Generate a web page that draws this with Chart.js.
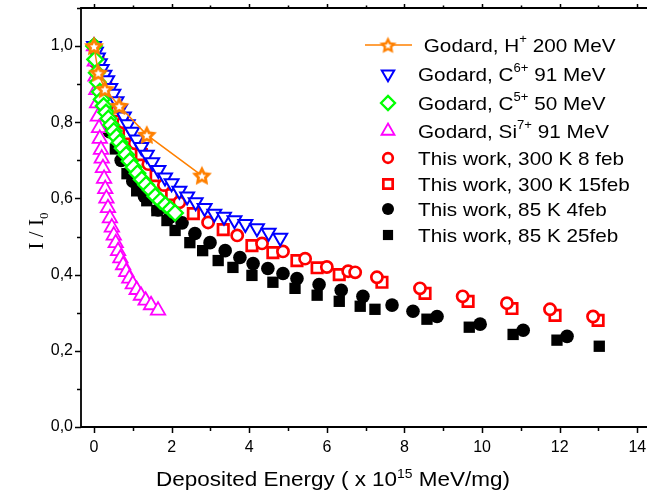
<!DOCTYPE html>
<html>
<head>
<meta charset="utf-8">
<title>I / I0 vs deposited energy</title>
<script src="https://cdn.jsdelivr.net/npm/chart.js@4.4.0/dist/chart.umd.min.js"></script>
<style>
  html, body { margin: 0; padding: 0; background: #ffffff; }
  #wrap { width: 647px; height: 497px; }
</style>
</head>
<body>
<div id="wrap"><canvas id="chart" width="647" height="497"></canvas></div>
<script>
// Axis ticks
const xTickValues = [0, 2, 4, 6, 8, 10, 12, 14];
const yTickValues = [0, 0.2, 0.4, 0.6, 0.8, 1.0];

// Series names (^{..} = superscript)
const seriesNames = [
  ' Godard, H^{+} 200 MeV',
  'Godard, C^{6+} 91 MeV',
  'Godard, C^{5+} 50 MeV',
  'Godard, Si^{7+} 91 MeV',
  'This work, 300 K 8 feb',
  'This work, 300 K 15feb',
  'This work, 85 K 4feb',
  'This work, 85 K 25feb'
];

// Godard, H+ 200 MeV
const hPlusX = [0, 0.11, 0.28, 0.65, 1.36, 2.78];
const hPlusY = [1.0, 0.93, 0.887, 0.843, 0.767, 0.66];

// Godard, C6+ 91 MeV
const c6X = [0, 0.05, 0.1, 0.15, 0.2, 0.27, 0.34, 0.42, 0.5, 0.58, 0.67, 0.77, 0.87, 0.98, 1.1, 1.22,
  1.36, 1.5, 1.66, 1.83, 2.0, 2.2, 2.4, 2.62, 2.85, 3.1, 3.35, 3.62, 3.9, 4.2, 4.5, 4.8];
const c6Y = [1.0, 0.985, 0.97, 0.955, 0.94, 0.925, 0.91, 0.89, 0.875, 0.855, 0.835, 0.815, 0.795, 0.775, 0.755, 0.735,
  0.715, 0.695, 0.675, 0.655, 0.64, 0.62, 0.605, 0.59, 0.575, 0.56, 0.552, 0.543, 0.533, 0.522, 0.51, 0.497];

// Godard, C5+ 50 MeV
const c5X = [0, 0.03, 0.07, 0.1, 0.15, 0.2, 0.25, 0.31, 0.37, 0.44, 0.51, 0.58, 0.66, 0.74, 0.83, 0.92,
  1.02, 1.12, 1.23, 1.34, 1.46, 1.58, 1.71, 1.84, 1.97, 2.09];
const c5Y = [1.0, 0.965, 0.93, 0.905, 0.88, 0.86, 0.843, 0.826, 0.81, 0.793, 0.777, 0.762, 0.747, 0.732, 0.715, 0.698,
  0.682, 0.666, 0.65, 0.636, 0.622, 0.606, 0.594, 0.583, 0.572, 0.562];

// Godard, Si7+ 91 MeV
const si7X = [0, 0.02, 0.04, 0.06, 0.08, 0.1, 0.13, 0.15, 0.18, 0.2, 0.23, 0.26, 0.29, 0.32, 0.36, 0.41,
  0.46, 0.51, 0.56, 0.62, 0.68, 0.75, 0.83, 0.91, 1.0, 1.1, 1.21, 1.33, 1.47, 1.65];
const si7Y = [1.0, 0.96, 0.92, 0.885, 0.85, 0.815, 0.785, 0.757, 0.728, 0.705, 0.68, 0.652, 0.625, 0.6, 0.575, 0.548,
  0.524, 0.503, 0.483, 0.462, 0.443, 0.425, 0.407, 0.39, 0.375, 0.36, 0.345, 0.332, 0.32, 0.306];

// This work, 300 K 8 feb
const k300aX = [0, 0.2, 0.45, 0.75, 1.05, 1.4, 1.8, 2.2, 2.94, 3.69, 4.33, 4.87, 5.44, 6.0, 6.55, 6.73,
  7.29, 8.4, 9.5, 10.64, 11.75, 12.86];
const k300aY = [1.0, 0.92, 0.86, 0.8, 0.745, 0.69, 0.635, 0.59, 0.537, 0.503, 0.482, 0.461, 0.442, 0.42, 0.409, 0.406,
  0.393, 0.364, 0.343, 0.325, 0.309, 0.29];

// This work, 300 K 15feb
const k300bX = [0.1, 0.3, 0.6, 0.9, 1.22, 1.6, 2.0, 2.56, 3.33, 4.07, 4.61, 5.23, 5.75, 6.32, 7.42, 8.53,
  9.64, 10.77, 11.88, 12.99];
const k300bY = [0.96, 0.89, 0.83, 0.77, 0.715, 0.66, 0.61, 0.56, 0.518, 0.476, 0.458, 0.437, 0.418, 0.4, 0.38, 0.351,
  0.33, 0.311, 0.293, 0.28];

// This work, 85 K 4feb
const k85aX = [0, 0.15, 0.4, 0.7, 1.0, 1.3, 1.65, 1.95, 2.27, 2.6, 2.99, 3.38, 3.76, 4.1, 4.48, 4.87,
  5.23, 5.8, 6.37, 6.93, 7.68, 8.22, 8.84, 9.95, 11.06, 12.19];
const k85aY = [1.0, 0.88, 0.775, 0.7, 0.645, 0.605, 0.57, 0.55, 0.536, 0.508, 0.484, 0.463, 0.445, 0.429, 0.416, 0.403,
  0.39, 0.374, 0.359, 0.343, 0.32, 0.304, 0.29, 0.27, 0.254, 0.238];

// This work, 85 K 25feb
const k85bX = [0.05, 0.25, 0.55, 0.85, 1.1, 1.36, 1.62, 1.88, 2.09, 2.47, 2.8, 3.2, 3.58, 4.07, 4.61, 5.18,
  5.75, 6.32, 6.86, 7.24, 8.58, 9.67, 10.8, 11.93, 13.02];
const k85bY = [0.96, 0.83, 0.73, 0.665, 0.62, 0.594, 0.568, 0.542, 0.516, 0.484, 0.463, 0.437, 0.419, 0.398, 0.38, 0.364,
  0.346, 0.33, 0.317, 0.309, 0.283, 0.262, 0.243, 0.228, 0.212];

const FONT = '"Liberation Sans", Arial, sans-serif';
const ORANGE = '#ff8000';

// Orange star with white centre, used as a point image
function starPath(g, cx, cy, rOut, rIn) {
  g.beginPath();
  for (let i = 0; i < 10; i++) {
    const r = i % 2 === 0 ? rOut : rIn;
    const a = -Math.PI / 2 + i * Math.PI / 5;
    const px = cx + r * Math.cos(a);
    const py = cy + r * Math.sin(a);
    if (i === 0) g.moveTo(px, py); else g.lineTo(px, py);
  }
  g.closePath();
}

function makeStar(size) {
  const c = document.createElement('canvas');
  c.width = size;
  c.height = size;
  const g = c.getContext('2d');
  const cx = size / 2, cy = size / 2 + 0.8;
  starPath(g, cx, cy, size / 2 - 0.5, size / 4.2);
  g.fillStyle = ORANGE;
  g.fill();
  starPath(g, cx, cy, size / 5.2, size / 11);
  g.fillStyle = '#ffffff';
  g.fill();
  return c;
}

const starImg = makeStar(22);
const starLegendImg = makeStar(19);

function points(xs, ys) {
  return xs.map((x, i) => ({ x: x, y: ys[i] }));
}

const seriesData = [
  points(hPlusX, hPlusY),
  points(c6X, c6Y),
  points(c5X, c5Y),
  points(si7X, si7Y),
  points(k300aX, k300aY),
  points(k300bX, k300bY),
  points(k85aX, k85aY),
  points(k85bX, k85bY)
];

// Marker styles for each series
const seriesStyles = [
  { color: ORANGE, style: starImg, legendStyle: starLegendImg, radius: 11, rotation: 0, fill: ORANGE, width: 0, order: 0, line: true },
  { color: '#0000ff', style: 'triangle', radius: 8, rotation: 180, fill: '#ffffff', width: 2, order: 2 },
  { color: '#00ff00', style: 'rectRot', radius: 7.8, rotation: 0, fill: '#ffffff', width: 2.3, order: 1 },
  { color: '#ff00ff', style: 'triangle', radius: 8.3, rotation: 0, fill: '#ffffff', width: 1.8, order: 3 },
  { color: '#ff0000', style: 'circle', radius: 5.6, rotation: 0, fill: '#ffffff', width: 2.7, order: 4 },
  { color: '#ff0000', style: 'rect', radius: 7.4, rotation: 0, fill: '#ffffff', width: 2.7, order: 5 },
  { color: '#000000', style: 'circle', radius: 6.8, rotation: 0, fill: '#000000', width: 0, order: 6 },
  { color: '#000000', style: 'rect', radius: 8, rotation: 0, fill: '#000000', width: 0, order: 7 }
];

// Split "abc^{+} def" into [text, isSuper] parts
function splitSup(str) {
  const parts = [];
  const re = /\^\{([^}]*)\}/g;
  let last = 0, m;
  while ((m = re.exec(str)) !== null) {
    if (m.index > last) parts.push([str.slice(last, m.index), false]);
    parts.push([m[1], true]);
    last = re.lastIndex;
  }
  if (last < str.length) parts.push([str.slice(last), false]);
  return parts;
}

function drawRich(ctx, str, x, y, size, supSize, rise) {
  let cx = x;
  splitSup(str).forEach(([txt, sup]) => {
    ctx.font = (sup ? supSize : size) + 'px ' + FONT;
    ctx.fillText(txt, cx, sup ? y - rise : y);
    cx += ctx.measureText(txt).width;
  });
  return cx - x;
}

function richWidth(ctx, str, size, supSize) {
  let w = 0;
  splitSup(str).forEach(([txt, sup]) => {
    ctx.font = (sup ? supSize : size) + 'px ' + FONT;
    w += ctx.measureText(txt).width;
  });
  return w;
}

// Frame, minor ticks, axis titles and legend
const decorPlugin = {
  id: 'decor',
  afterDraw(chart) {
    const ctx = chart.ctx;
    const area = chart.chartArea;
    const xs = chart.scales.x;
    const ys = chart.scales.y;
    ctx.save();

    // frame (right edge falls off the canvas)
    ctx.strokeStyle = '#000000';
    ctx.lineWidth = 1.8;
    ctx.beginPath();
    ctx.moveTo(area.right + 2, area.top);
    ctx.lineTo(area.left, area.top);
    ctx.lineTo(area.left, area.bottom);
    ctx.lineTo(area.right + 2, area.bottom);
    ctx.stroke();

    // ticks
    ctx.lineWidth = 1.5;
    ctx.beginPath();
    for (let v = 0; v <= 14; v++) {
      const px = Math.round(xs.getPixelForValue(v)) + 0.5;
      const major = v % 2 === 0;
      ctx.moveTo(px, area.bottom);
      ctx.lineTo(px, area.bottom + (major ? 6 : 4));
      ctx.moveTo(px, area.top);
      ctx.lineTo(px, area.top - (major ? 4 : 2.5));
    }
    for (let k = 0; k <= 11; k++) {
      const py = Math.round(ys.getPixelForValue(k / 10)) + 0.5;
      const major = k % 2 === 0;
      ctx.moveTo(area.left, py);
      ctx.lineTo(area.left - (major ? 6 : 4), py);
    }
    ctx.stroke();

    ctx.fillStyle = '#000000';
    ctx.textBaseline = 'alphabetic';
    ctx.textAlign = 'left';

    // x title, slightly stretched like the original export
    const xTitle = 'Deposited Energy ( x 10^{15} MeV/mg)';
    const tw = richWidth(ctx, xTitle, 21, 13) * 1.07;
    ctx.save();
    ctx.translate(333 - tw / 2, 486);
    ctx.scale(1.07, 1);
    drawRich(ctx, xTitle, 0, 0, 21, 13, 8);
    ctx.restore();

    // y title, serif, rotated
    ctx.save();
    ctx.translate(43, 231);
    ctx.rotate(-Math.PI / 2);
    ctx.font = '21px "Liberation Serif", "Times New Roman", serif';
    const main = 'I / I';
    const mw = ctx.measureText(main).width;
    ctx.font = '13px "Liberation Serif", "Times New Roman", serif';
    const sw = ctx.measureText('0').width;
    const x0 = -(mw + sw) / 2;
    ctx.font = '21px "Liberation Serif", "Times New Roman", serif';
    ctx.fillText(main, x0, 0);
    ctx.font = '13px "Liberation Serif", "Times New Roman", serif';
    ctx.fillText('0', x0 + mw, 5);
    ctx.restore();

    // legend
    const rowY = [45, 74, 103, 131, 158, 184, 209, 235];
    const markX = 388;
    const textX = 418;
    seriesNames.forEach((name, i) => {
      const st = seriesStyles[i];
      const y = rowY[i];
      if (st.line) {
        ctx.strokeStyle = st.color;
        ctx.lineWidth = 1.5;
        ctx.beginPath();
        ctx.moveTo(365, y);
        ctx.lineTo(412, y);
        ctx.stroke();
      }
      ctx.fillStyle = st.fill;
      ctx.strokeStyle = st.color;
      ctx.lineWidth = st.width;
      Chart.helpers.drawPoint(ctx, {
        pointStyle: st.legendStyle || st.style,
        radius: Math.max(st.radius - 0.8, 4),
        rotation: st.rotation,
        borderWidth: st.width
      }, markX, y);
      ctx.fillStyle = '#000000';
      ctx.save();
      ctx.translate(textX, y + 7);
      ctx.scale(1.09, 1);
      drawRich(ctx, name, 0, 0, 19, 12, 9);
      ctx.restore();
    });

    ctx.restore();
  }
};

const datasets = seriesData.map((data, i) => {
  const st = seriesStyles[i];
  return {
    label: seriesNames[i].replace(/\^\{([^}]*)\}/g, '$1').trim(),
    data: data,
    showLine: !!st.line,
    borderColor: st.color,
    borderWidth: 1.5,
    backgroundColor: st.fill,
    pointStyle: st.style,
    pointRadius: st.radius,
    pointHoverRadius: st.radius,
    pointRotation: st.rotation,
    pointBackgroundColor: st.fill,
    pointBorderColor: st.color,
    pointBorderWidth: st.width,
    order: st.order
  };
});

function noPadding(scale) {
  scale.paddingTop = 0;
  scale.paddingBottom = 0;
  scale.paddingLeft = 0;
  scale.paddingRight = 0;
}

new Chart(document.getElementById('chart').getContext('2d'), {
  type: 'scatter',
  data: { datasets: datasets },
  options: {
    responsive: false,
    animation: false,
    devicePixelRatio: 1,
    layout: { autoPadding: false, padding: { top: 8, right: 0, left: 0, bottom: 0 } },
    plugins: {
      legend: { display: false },
      tooltip: { enabled: false }
    },
    scales: {
      x: {
        type: 'linear',
        min: -0.335,
        max: 14.25,
        grid: { display: false, drawTicks: false },
        border: { display: false },
        afterBuildTicks: (scale) => { scale.ticks = xTickValues.map(v => ({ value: v })); },
        afterFit: (scale) => { scale.height = 70; noPadding(scale); },
        ticks: {
          color: '#000000',
          padding: 11,
          maxRotation: 0,
          font: { family: FONT, size: 16 },
          callback: (v) => String(v)
        }
      },
      y: {
        type: 'linear',
        min: 0,
        max: 1.1,
        grid: { display: false, drawTicks: false },
        border: { display: false },
        afterBuildTicks: (scale) => { scale.ticks = yTickValues.map(v => ({ value: v })); },
        afterFit: (scale) => { scale.width = 81; noPadding(scale); },
        ticks: {
          color: '#000000',
          padding: 8,
          font: { family: FONT, size: 16 },
          callback: (v) => v.toFixed(1).replace('.', ',')
        }
      }
    }
  },
  plugins: [decorPlugin]
});
</script>
</body>
</html>
